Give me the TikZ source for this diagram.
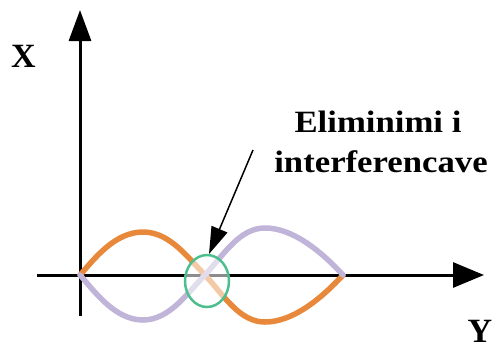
\documentclass[tikz,border=0pt]{standalone}
\usepackage{fontspec}
\setmainfont{Liberation Serif}
\newfontfamily\lblfont[FakeStretch=1.12]{Liberation Serif}
\usetikzlibrary{arrows.meta,shapes.geometric}
\definecolor{curveorange}{RGB}{232,136,58}
\definecolor{curvepurple}{RGB}{192,180,216}
\definecolor{ringgreen}{RGB}{77,191,143}
\tikzset{
  axisline/.style={line width=3pt,black},
  curveline/.style={line width=5.5pt,line cap=round,line join=round},
  axislabel/.style={font=\fontsize{34}{34}\selectfont\bfseries,inner sep=0pt,anchor=base},
  notetext/.style={font=\lblfont\fontsize{31}{40}\selectfont\bfseries,inner sep=0pt,align=center,anchor=base},
}
\begin{document}
\begin{tikzpicture}[x=1pt,y=-1pt]
\useasboundingbox (0,0) rectangle (494,349);
% axes
\coordinate (o) at (80,275);
\coordinate (ybot) at (80,316);
\coordinate (ytop) at (80,10);
\coordinate (xleft) at (37,275);
\coordinate (xright) at (484,275);
\draw[axisline,-{Triangle[length=31pt,width=22pt]}] (ybot) -- (ytop);
\draw[axisline,-{Triangle[length=31pt,width=25pt]}] (xleft) -- (xright);
\node[axislabel] (xl) at (23.5,67) {X};
\node[axislabel] (yl) at (480,342) {Y};
% curves
\draw[curveline,curveorange] (80,275) .. controls (95,258) and (115,232) .. (143,232)
  .. controls (170,232) and (188,258) .. (205,275)
  .. controls (225,297) and (240,322) .. (265,322)
  .. controls (292,322) and (320,300) .. (343,275);
\draw[curveline,curvepurple] (80,275) .. controls (95,292) and (115,320) .. (143,320)
  .. controls (170,320) and (188,292) .. (205,275)
  .. controls (225,253) and (240,228) .. (265,228)
  .. controls (292,228) and (320,250) .. (343,275);
% ring
\node[draw=ringgreen,line width=2.5pt,fill=white,fill opacity=0.55,ellipse,minimum width=44pt,minimum height=52pt,inner sep=0pt] (ring) at (207,281) {};
% note
\node[notetext] (note1) at (378,132) {Eliminimi i};
\node[notetext] (note2) at (381,172) {interferencave};
\coordinate (ptail) at (253,150);
\coordinate (phead) at (209,254);
\draw[line width=1.5pt,-{Triangle[length=27pt,width=17pt]}] (ptail) -- (phead);
\end{tikzpicture}
\end{document}
